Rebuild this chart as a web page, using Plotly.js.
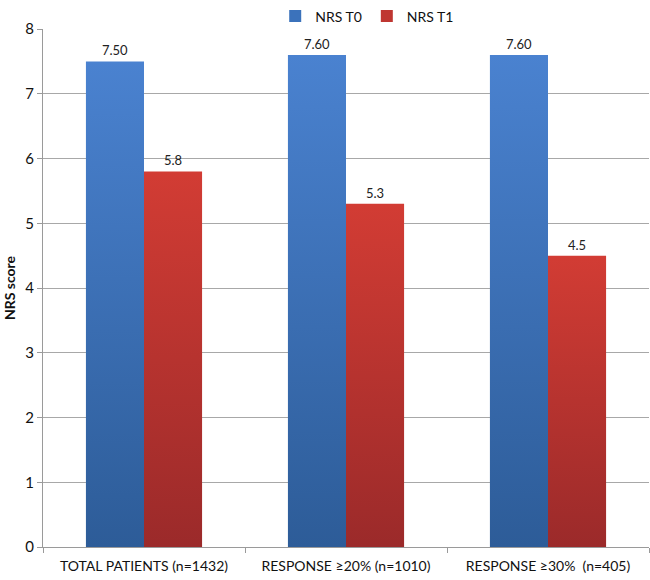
<!DOCTYPE html>
<html>
<head>
<meta charset="utf-8">
<script src="https://cdn.plot.ly/plotly-3.0.1.min.js"></script>
<style>
  html, body { margin: 0; padding: 0; background: #fff; }
  #chart { width: 650px; height: 580px; }
</style>
</head>
<body>
<div id="chart"></div>
<script>
const categories = ['TOTAL PATIENTS (n=1432)', 'RESPONSE \u226520% (n=1010)', 'RESPONSE \u226530%  (n=405)'];
const nrsT0 = [7.5, 7.6, 7.6];
const nrsT1 = [5.8, 5.3, 4.5];
const t0Labels = ['7.50', '7.60', '7.60'];
const t1Labels = ['5.8', '5.3', '4.5'];
const yTicks = [0, 1, 2, 3, 4, 5, 6, 7, 8];

const FONT = 'Lato, "Open Sans", sans-serif';

const traces = [
  {
    type: 'bar', name: 'NRS T0', x: categories, y: nrsT0,
    text: t0Labels, textposition: 'outside', cliponaxis: false,
    textfont: { family: FONT, size: 13, color: '#222' },
    marker: { color: '#3b72bb' }, hoverinfo: 'none'
  },
  {
    type: 'bar', name: 'NRS T1', x: categories, y: nrsT1,
    text: t1Labels, textposition: 'outside', cliponaxis: false,
    textfont: { family: FONT, size: 13, color: '#222' },
    marker: { color: '#bf3631' }, hoverinfo: 'none'
  }
];

const layout = {
  width: 650, height: 580,
  margin: { l: 43, r: 1, t: 27, b: 33 },
  font: { family: FONT, color: '#111' },
  barmode: 'group', bargap: 0.425, bargroupgap: 0,
  showlegend: true,
  legend: {
    orientation: 'h', x: 0.535, xanchor: 'center', y: 1.055, yanchor: 'top',
    font: { size: 14, color: '#111' }, itemwidth: 30, traceorder: 'normal'
  },
  xaxis: {
    showgrid: false, showline: true, linecolor: '#9a9a9a', linewidth: 1,
    ticks: 'outside', tickson: 'boundaries', ticklen: 5, tickcolor: '#9a9a9a',
    ticklabelstandoff: 6,
    tickfont: { size: 14, color: '#111' }, fixedrange: true
  },
  yaxis: {
    range: [0, 8], tickvals: yTicks, showgrid: true, gridcolor: '#a8a8a8', gridwidth: 1,
    showline: true, linecolor: '#9a9a9a', linewidth: 1, zeroline: false,
    ticks: 'outside', ticklen: 5, tickcolor: '#9a9a9a',
    tickfont: { size: 15, color: '#111' },
    title: { text: '<b>NRS score</b>', font: { size: 14, color: '#111' }, standoff: 6 },
    fixedrange: true
  },
  plot_bgcolor: '#fff', paper_bgcolor: '#fff'
};

Plotly.newPlot('chart', traces, layout, { displayModeBar: false, staticPlot: true }).then(function (gd) {
  // vertical gradients on the bars, like the original spreadsheet chart
  const svg = gd.querySelector('svg.main-svg');
  const ns = 'http://www.w3.org/2000/svg';
  let defs = svg.querySelector('defs');
  if (!defs) { defs = document.createElementNS(ns, 'defs'); svg.insertBefore(defs, svg.firstChild); }
  const grads = [['gradT0', '#4a82d0', '#2d5c98'], ['gradT1', '#d23c34', '#9b2a2a']];
  grads.forEach(function (g) {
    const lg = document.createElementNS(ns, 'linearGradient');
    lg.setAttribute('id', g[0]);
    lg.setAttribute('x1', '0'); lg.setAttribute('y1', '0');
    lg.setAttribute('x2', '0'); lg.setAttribute('y2', '1');
    lg.setAttribute('gradientUnits', 'objectBoundingBox');
    [['0', g[1]], ['1', g[2]]].forEach(function (s) {
      const st = document.createElementNS(ns, 'stop');
      st.setAttribute('offset', s[0]); st.setAttribute('stop-color', s[1]);
      lg.appendChild(st);
    });
    defs.appendChild(lg);
  });
  const barTraces = gd.querySelectorAll('.barlayer .trace');
  barTraces.forEach(function (tr, i) {
    tr.querySelectorAll('.point path').forEach(function (p) {
      p.style.fill = 'url(#' + grads[i][0] + ')';
    });
  });
});
</script>
</body>
</html>
